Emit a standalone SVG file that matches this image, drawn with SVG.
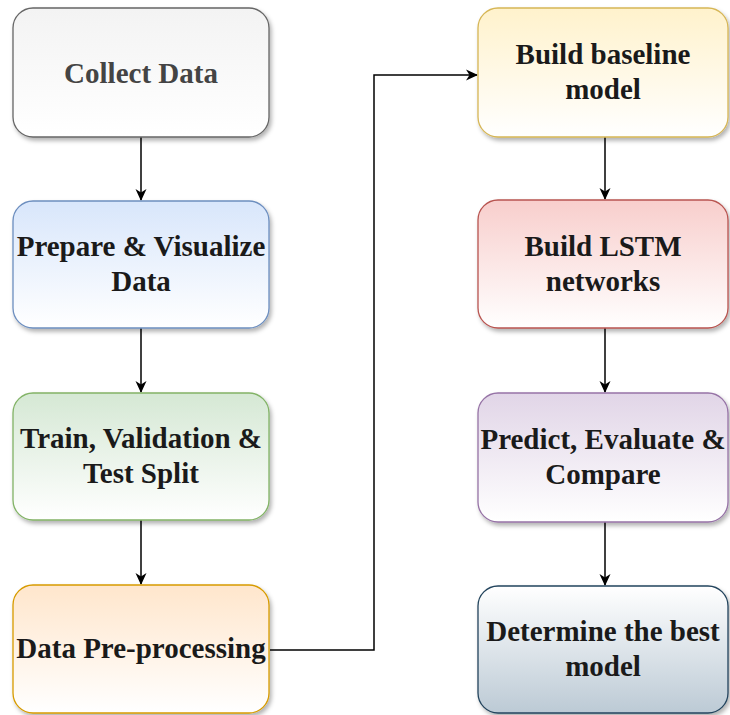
<svg xmlns="http://www.w3.org/2000/svg" width="730" height="715" viewBox="0 0 730 715">
<defs>
<filter id="sh" x="-10%" y="-10%" width="125%" height="130%">
<feDropShadow dx="2" dy="3" stdDeviation="2" flood-color="#000" flood-opacity="0.3"/>
</filter>
<linearGradient id="gGray" x1="0" y1="0" x2="0" y2="1"><stop offset="0" stop-color="#f3f3f3"/><stop offset="1" stop-color="#ffffff"/></linearGradient>
<linearGradient id="gBlue" x1="0" y1="0" x2="0" y2="1"><stop offset="0" stop-color="#d8e6fb"/><stop offset="1" stop-color="#ffffff"/></linearGradient>
<linearGradient id="gGreen" x1="0" y1="0" x2="0" y2="1"><stop offset="0" stop-color="#d5e8d4"/><stop offset="1" stop-color="#ffffff"/></linearGradient>
<linearGradient id="gOrange" x1="0" y1="0" x2="0" y2="1"><stop offset="0" stop-color="#ffe6cc"/><stop offset="1" stop-color="#ffffff"/></linearGradient>
<linearGradient id="gYellow" x1="0" y1="0" x2="0" y2="1"><stop offset="0" stop-color="#fff2cc"/><stop offset="1" stop-color="#ffffff"/></linearGradient>
<linearGradient id="gRed" x1="0" y1="0" x2="0" y2="1"><stop offset="0" stop-color="#f8cecc"/><stop offset="1" stop-color="#ffffff"/></linearGradient>
<linearGradient id="gPurple" x1="0" y1="0" x2="0" y2="1"><stop offset="0" stop-color="#e1d5e7"/><stop offset="1" stop-color="#ffffff"/></linearGradient>
<linearGradient id="gSlate" x1="0" y1="0" x2="0" y2="1"><stop offset="0" stop-color="#ffffff"/><stop offset="1" stop-color="#bccad5"/></linearGradient>
<marker id="arr" viewBox="0 0 12 12" refX="11" refY="6" markerWidth="12" markerHeight="12" markerUnits="userSpaceOnUse" orient="auto">
<path d="M0,0.5 L12,6 L0,11.5 L3.5,6 Z" fill="#000"/>
</marker>
</defs>
<style>
.box{stroke-width:1.3;filter:url(#sh)}
.conn{fill:none;stroke:#000;stroke-width:1.5;marker-end:url(#arr)}
</style>
<rect width="730" height="715" fill="#fff"/>
<g id="connectors">
<path class="conn" d="M141,137 V200"/>
<path class="conn" d="M141,328 V392"/>
<path class="conn" d="M141,520 V584"/>
<path class="conn" d="M270,650 H374 V75 H477"/>
<path class="conn" d="M605,137 V199"/>
<path class="conn" d="M605,328 V392"/>
<path class="conn" d="M605,522 V585"/>
</g>
<g id="collect">
<rect class="box" x="13" y="8" width="256" height="129" rx="20" fill="url(#gGray)" stroke="#666"/>
<text x="141" y="83" font-family="Liberation Serif" font-size="29" font-weight="bold" text-anchor="middle" fill="#444">Collect Data</text>
</g>
<g id="prepare">
<rect class="box" x="13" y="201" width="256" height="127" rx="20" fill="url(#gBlue)" stroke="#6c8ebf"/>
<text x="141" y="256" font-family="Liberation Serif" font-size="29" font-weight="bold" text-anchor="middle" fill="#1a1a1a">Prepare &amp; Visualize</text>
<text x="141" y="291" font-family="Liberation Serif" font-size="29" font-weight="bold" text-anchor="middle" fill="#1a1a1a">Data</text>
</g>
<g id="split">
<rect class="box" x="13" y="393" width="256" height="127" rx="20" fill="url(#gGreen)" stroke="#82b366"/>
<text x="141" y="448" font-family="Liberation Serif" font-size="29" font-weight="bold" text-anchor="middle" fill="#1a1a1a">Train, Validation &amp;</text>
<text x="141" y="483" font-family="Liberation Serif" font-size="29" font-weight="bold" text-anchor="middle" fill="#1a1a1a">Test Split</text>
</g>
<g id="preproc">
<rect class="box" x="13" y="585" width="256" height="128" rx="20" fill="url(#gOrange)" stroke="#d79b00"/>
<text x="141" y="658" font-family="Liberation Serif" font-size="29" font-weight="bold" text-anchor="middle" fill="#1a1a1a">Data Pre-processing</text>
</g>
<g id="baseline">
<rect class="box" x="478" y="8" width="250" height="129" rx="20" fill="url(#gYellow)" stroke="#d6b656"/>
<text x="603" y="64" font-family="Liberation Serif" font-size="29" font-weight="bold" text-anchor="middle" fill="#1a1a1a">Build baseline</text>
<text x="603" y="99" font-family="Liberation Serif" font-size="29" font-weight="bold" text-anchor="middle" fill="#1a1a1a">model</text>
</g>
<g id="lstm">
<rect class="box" x="478" y="200" width="250" height="128" rx="20" fill="url(#gRed)" stroke="#b85450"/>
<text x="603" y="256" font-family="Liberation Serif" font-size="29" font-weight="bold" text-anchor="middle" fill="#1a1a1a">Build LSTM</text>
<text x="603" y="291" font-family="Liberation Serif" font-size="29" font-weight="bold" text-anchor="middle" fill="#1a1a1a">networks</text>
</g>
<g id="predict">
<rect class="box" x="478" y="393" width="250" height="129" rx="20" fill="url(#gPurple)" stroke="#9673a6"/>
<text x="603" y="449" font-family="Liberation Serif" font-size="29" font-weight="bold" text-anchor="middle" fill="#1a1a1a">Predict, Evaluate &amp;</text>
<text x="603" y="484" font-family="Liberation Serif" font-size="29" font-weight="bold" text-anchor="middle" fill="#1a1a1a">Compare</text>
</g>
<g id="best">
<rect class="box" x="478" y="586" width="250" height="127" rx="20" fill="url(#gSlate)" stroke="#23445d"/>
<text x="603" y="641" font-family="Liberation Serif" font-size="29" font-weight="bold" text-anchor="middle" fill="#1a1a1a">Determine the best</text>
<text x="603" y="676" font-family="Liberation Serif" font-size="29" font-weight="bold" text-anchor="middle" fill="#1a1a1a">model</text>
</g>
</svg>
